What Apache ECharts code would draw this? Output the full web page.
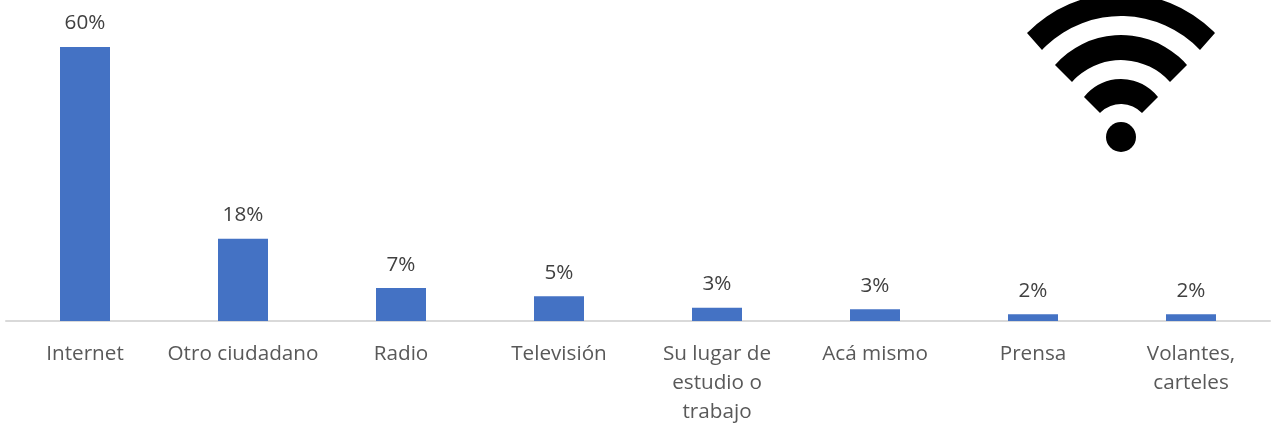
<!DOCTYPE html>
<html>
<head>
<meta charset="utf-8">
<style>
  html, body { margin: 0; padding: 0; background: #fff; }
  #chart { width: 1272px; height: 424px; }
</style>
<script src="https://cdn.jsdelivr.net/npm/echarts@6/dist/echarts.min.js"></script>
</head>
<body>
<div id="chart"></div>
<script>
const categories = ["Internet", "Otro ciudadano", "Radio", "Televisión", "Su lugar de\nestudio o\ntrabajo", "Acá mismo", "Prensa", "Volantes,\ncarteles"];
const shares = [60, 18, 7.2, 5.4, 2.9, 2.6, 1.5, 1.5];

// wifi icon, three bands + dot
const wifiPath =
  "M1027 33 A131.6 131.6 0 0 1 1215 33 L1200 50 A108.8 108.8 0 0 0 1042 50 Z " +
  "M1055 65 A87.6 87.6 0 0 1 1187 65 L1170 82 A65.6 65.6 0 0 0 1072 82 Z " +
  "M1084 97 A47 47 0 0 1 1158 97 L1142 113 A29 29 0 0 0 1100 113 Z";
echarts.graphic.registerShape("wifiBands", echarts.graphic.extendPath(wifiPath));

const echart = echarts.init(document.getElementById("chart"));
echart.setOption({
  animation: false,
  textStyle: { fontFamily: "Open Sans" },
  grid: { left: 6, right: 2, top: 47, bottom: 103, outerBoundsMode: "none" },
  xAxis: {
    type: "category",
    data: categories,
    axisLine: { lineStyle: { color: "#D9D9D9", width: 2 } },
    axisTick: { show: false },
    axisLabel: {
      color: "#595959",
      fontSize: 20.7,
      lineHeight: 29,
      margin: 19,
      interval: 0,
    },
  },
  yAxis: { type: "value", min: 0, max: 60, show: false },
  series: [
    {
      type: "bar",
      data: shares,
      barWidth: 50,
      itemStyle: { color: "#4472C4" },
      label: {
        show: true,
        position: "top",
        distance: 13,
        color: "#404040",
        fontSize: 20.7,
        formatter: (p) => Math.round(p.value) + "%",
      },
    },
  ],
  graphic: [
    { type: "wifiBands", style: { fill: "#000" } },
    { type: "circle", shape: { cx: 1121, cy: 137, r: 15 }, style: { fill: "#000" } },
  ],
});
</script>
</body>
</html>
